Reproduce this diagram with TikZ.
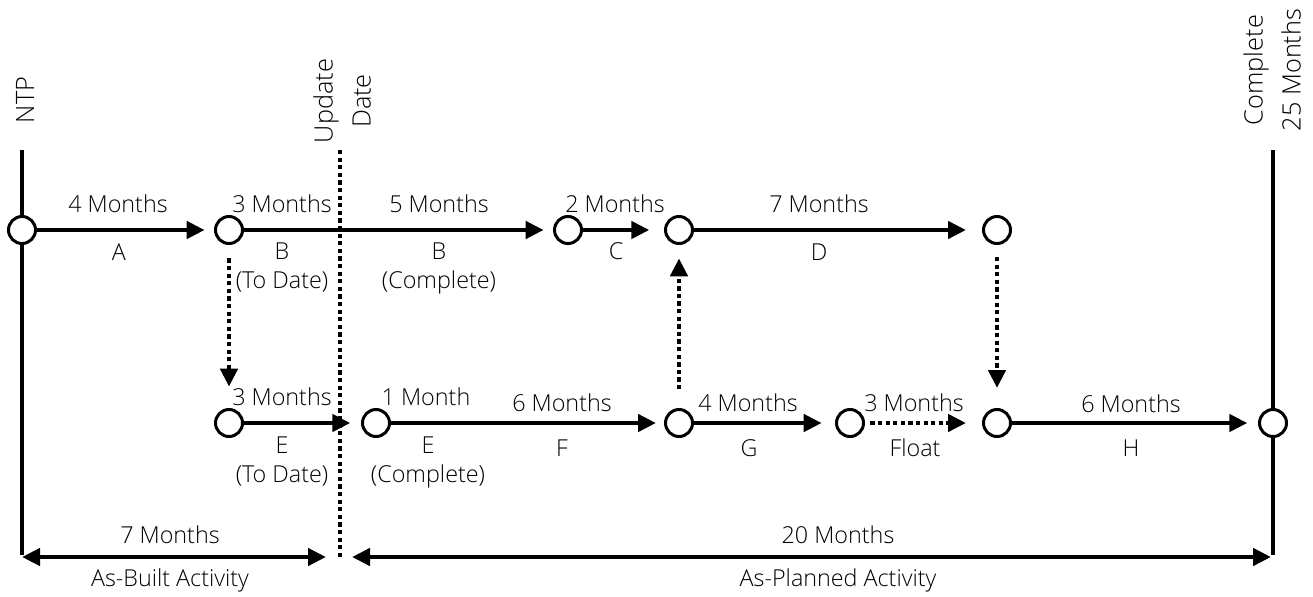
\documentclass[tikz,border=0pt]{standalone}
\usepackage{fontspec}
\setmainfont{Open Sans Light}
\usetikzlibrary{arrows.meta}
\begin{document}
\begin{tikzpicture}[x=0.75pt,y=-0.75pt,
  evt/.style={circle,draw,fill=white,line width=2.25pt,minimum size=20.25pt,inner sep=0pt},
  act/.style={line width=3.3pt,-{Triangle[length=13.5pt,width=12.75pt]},shorten >=7pt},
  dep/.style={act,line width=3.6pt,dash pattern=on 3.2pt off 2.5pt},
  rule/.style={line width=3.3pt},
  span/.style={line width=3.3pt,{Triangle[length=13.5pt,width=12.75pt]}-{Triangle[length=13.5pt,width=12.75pt]}},
  lbl/.style={font=\fontsize{17.5}{21.5}\selectfont,anchor=base,inner sep=0pt,align=center},
  vlbl/.style={font=\fontsize{19}{28.5}\selectfont,rotate=90,inner sep=0pt,align=center}]
\useasboundingbox (0,0) rectangle (1313,596);
\fill[white] (0,0) rectangle (1313,596);

% time axes: notice to proceed, update date, completion
\coordinate (ntpTop) at (22,150);
\coordinate (ntpBot) at (22,555);
\coordinate (udTop) at (340,150);
\coordinate (udBot) at (340,559);
\coordinate (endTop) at (1273,150);
\coordinate (endBot) at (1273,555);
\draw[rule] (ntpTop) -- (ntpBot);
\draw[rule] (endTop) -- (endBot);
\draw[line width=3.6pt,dash pattern=on 3.2pt off 2.5pt] (udTop) -- (udBot);

\node[vlbl] (ntp) at (25,100) {NTP};
\node[vlbl] (upd) at (342,101) {Update\\Date};
\node[vlbl] (fin) at (1272,70) {Complete\\25 Months};

% events
\node[evt] (t1) at (22,230) {};
\node[evt] (t2) at (229,230) {};
\node[evt] (t3) at (568,230) {};
\node[evt] (t4) at (679,230) {};
\node[evt] (t5) at (997,230) {};
\node[evt] (b1) at (229,423) {};
\node[evt] (b2) at (376,423) {};
\node[evt] (b3) at (679,423) {};
\node[evt] (b4) at (850,423) {};
\node[evt] (b5) at (997,423) {};
\node[evt] (b6) at (1273,423) {};

% activities
\draw[act] (t1) -- (t2);
\draw[act] (t2) -- (t3);
\draw[act,shorten >=11pt] (t3) -- (t4);
\draw[act,shorten >=12pt] (t4) -- (t5);
\draw[act,shorten >=8pt] (b1) -- (b2);
\draw[act,shorten >=6pt] (b2) -- (b3);
\draw[act,shorten >=10pt] (b3) -- (b4);
\draw[dep,shorten <=4pt,shorten >=12pt] (b4) -- (b5);
\draw[act,shorten >=8pt] (b5) -- (b6);

% logic ties
\draw[dep,shorten <=10pt,shorten >=16pt] (t2) -- (b1);
\draw[dep,shorten <=14pt,shorten >=10pt] (b3) -- (t4);
\draw[dep,shorten <=9pt,shorten >=15pt] (t5) -- (b5);

% durations and activity names (two-line labels sit on their last baseline)
\node[lbl] (lA1) at (118,212) {4 Months};
\node[lbl] (lA2) at (119,260) {A};
\node[lbl] (lB1) at (282,212) {3 Months};
\node[lbl] (lB2) at (282,288) {B\\(To Date)};
\node[lbl] (lB3) at (439,212) {5 Months};
\node[lbl] (lB4) at (439,288) {B\\(Complete)};
\node[lbl] (lC1) at (615,212) {2 Months};
\node[lbl] (lC2) at (616,259) {C};
\node[lbl] (lD1) at (819,212) {7 Months};
\node[lbl] (lD2) at (819,260) {D};

\node[lbl] (lE1) at (282,405) {3 Months};
\node[lbl] (lE2) at (282,482) {E\\(To Date)};
\node[lbl] (lE3) at (426,405) {1 Month};
\node[lbl] (lE4) at (428,482) {E\\(Complete)};
\node[lbl] (lF1) at (562,411) {6 Months};
\node[lbl] (lF2) at (562,456) {F};
\node[lbl] (lG1) at (748,411) {4 Months};
\node[lbl] (lG2) at (749,456) {G};
\node[lbl] (lFl1) at (914,411) {3 Months};
\node[lbl] (lFl2) at (915,456) {Float};
\node[lbl] (lH1) at (1131,412) {6 Months};
\node[lbl] (lH2) at (1131,456) {H};

% as-built and as-planned spans
\coordinate (sL) at (22,557);
\coordinate (sM1) at (326,557);
\coordinate (sM2) at (352,557);
\coordinate (sR) at (1271,557);
\draw[span] (sL) -- (sM1);
\draw[span] (sM2) -- (sR);
\node[lbl] (s1a) at (170,543) {7 Months};
\node[lbl] (s1b) at (170,586) {As-Built Activity};
\node[lbl] (s2a) at (838,543) {20 Months};
\node[lbl] (s2b) at (838,586) {As-Planned Activity};
\end{tikzpicture}
\end{document}
